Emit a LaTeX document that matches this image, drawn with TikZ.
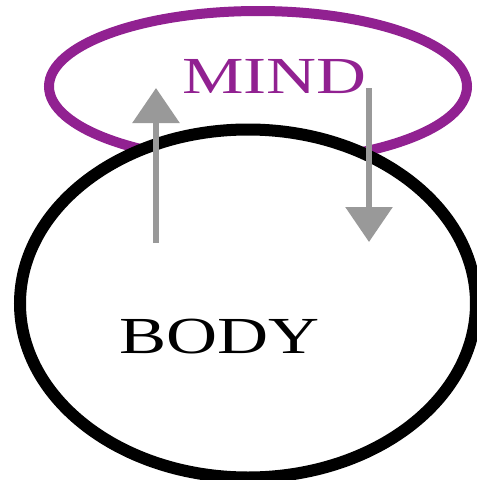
\documentclass[tikz,border=0pt]{standalone}
\usepackage{fontspec}
\setmainfont{Liberation Serif}
\usetikzlibrary{shapes.geometric,arrows.meta}
\definecolor{mindpurple}{RGB}{145,33,145}
\definecolor{arrowgray}{RGB}{153,153,153}
\begin{document}
\begin{tikzpicture}[x=1pt,y=-1pt,
  oval/.style={ellipse,inner sep=0pt},
  flow/.style={draw=arrowgray,line width=6pt,-{Triangle[length=35pt,width=46pt]},arrowgray},
  label/.style={anchor=base,inner sep=0pt,font=\fontsize{52}{52}\selectfont}]
\useasboundingbox (0,0) rectangle (477,480);
\node[oval,draw=mindpurple,line width=10pt,minimum width=418pt,minimum height=151pt] (mind) at (258,86.5) {};
\node[oval,draw=black,fill=white,line width=12pt,minimum width=456pt,minimum height=348pt] (body) at (248,303.5) {};
\coordinate (upstart) at (156,243);
\coordinate (upend) at (156,88);
\coordinate (downstart) at (369,88);
\coordinate (downend) at (369,242);
\draw[flow] (upstart) -- (upend);
\draw[flow] (downstart) -- (downend);
\node[label,text=mindpurple] (mindtext) at (274.5,93) {\scalebox{1.33}[1]{MIND}};
\node[label,text=black] (bodytext) at (219.5,353) {\scalebox{1.36}[1]{BODY}};
\end{tikzpicture}
\end{document}
